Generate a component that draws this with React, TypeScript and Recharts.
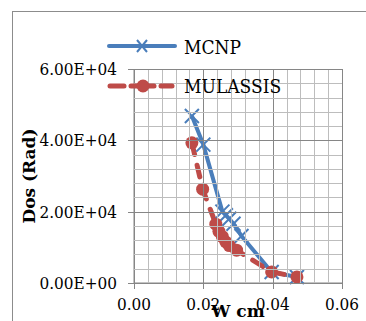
import React from 'react';
import { LineChart, Line, XAxis, YAxis, Label } from 'recharts';

const seriesNames = ['MCNP', 'MULASSIS'];
const seriesColors = ['#4A7EBB', '#BE4B48'];

const mcnpW = [0.0167, 0.02, 0.0255, 0.0265, 0.0275, 0.0287, 0.031, 0.0397, 0.047];
const mcnpDose = [46800, 38800, 20000, 19000, 18000, 16600, 13200, 3100, 1700];

const mulW = [0.0167, 0.0198, 0.0236, 0.0245, 0.0255, 0.0265, 0.0275, 0.0296, 0.0397, 0.047];
const mulDose = [39300, 26300, 16500, 14500, 13000, 11500, 10500, 9200, 3100, 1700];

const xMajorTicks = [0, 0.02, 0.04, 0.06];
const xAllTicks = [0, 0.004, 0.008, 0.012, 0.016, 0.02, 0.024, 0.028, 0.032, 0.036, 0.04, 0.044, 0.048, 0.052, 0.056, 0.06];
const yMajorTicks = [0, 20000, 40000, 60000];
const yAllTicks = [0, 4000, 8000, 12000, 16000, 20000, 24000, 28000, 32000, 36000, 40000, 44000, 48000, 52000, 56000, 60000];

const xTitle = 'W cm';
const yTitle = 'Dos (Rad)';

const mcnpData = mcnpW.map((x, i) => ({ x, y: mcnpDose[i] }));
const mulData = mulW.map((x, i) => ({ x, y: mulDose[i] }));

const W = 366;
const H = 321;
const MARGIN_TOP = 69;
const MARGIN_RIGHT = 24;
const Y_AXIS_W = 134;
const X_AXIS_H = 38;
const PLOT_LEFT = Y_AXIS_W;
const PLOT_RIGHT = W - MARGIN_RIGHT;
const PLOT_TOP = MARGIN_TOP;
const PLOT_BOTTOM = H - X_AXIS_H;
const MAJOR = '#868686';
const MINOR = '#bdbdbd';
const FONT = 'DejaVu Serif Condensed, DejaVu Serif';
const TITLE_FONT = 'DejaVu Serif';

const fmtY = (v: number) => {
  const [m, e] = v.toExponential(2).split('e');
  const sign = e[0] === '-' ? '-' : '+';
  const digits = e.replace(/[+-]/, '').padStart(2, '0');
  return `${m}E${sign}${digits}`;
};
const fmtX = (v: number) => v.toFixed(2);
const isMajor = (v: number, majors: number[]) => majors.some((m) => Math.abs(m - v) < 1e-9);
const snap = (v: number) => Math.round(v) + 0.5;

const XTick = (props: any) => {
  const { payload } = props;
  const major = isMajor(payload.value, xMajorTicks);
  const cx = snap(payload.coordinate);
  return (
    <g>
      <line x1={cx} x2={cx} y1={PLOT_TOP} y2={PLOT_BOTTOM} stroke={major ? MAJOR : MINOR} strokeWidth={1} />
      {major && (
        <>
          <line x1={cx} x2={cx} y1={PLOT_BOTTOM} y2={PLOT_BOTTOM + 6} stroke={MAJOR} />
          <text x={payload.coordinate} y={PLOT_BOTTOM + 15} dy="0.71em" textAnchor="middle" fill="#000" fontSize={17} fontFamily={FONT}>
            {fmtX(payload.value)}
          </text>
        </>
      )}
    </g>
  );
};

const YTick = (props: any) => {
  const { payload } = props;
  const major = isMajor(payload.value, yMajorTicks);
  const cy = snap(payload.coordinate);
  return (
    <g>
      <line x1={PLOT_LEFT} x2={PLOT_RIGHT} y1={cy} y2={cy} stroke={major ? MAJOR : MINOR} strokeWidth={1} />
      {major && (
        <>
          <line x1={PLOT_LEFT - 6} x2={PLOT_LEFT} y1={cy} y2={cy} stroke={MAJOR} />
          <text x={PLOT_LEFT - 17} y={payload.coordinate} dy="0.355em" textAnchor="end" fill="#000" fontSize={17} fontFamily={FONT}>
            {fmtY(payload.value)}
          </text>
        </>
      )}
    </g>
  );
};

const CrossDot = (props: any) => {
  const { cx, cy, stroke } = props;
  if (cx == null || cy == null) return null;
  const s = 7;
  return (
    <path
      d={`M${cx - s},${cy - s}L${cx + s},${cy + s}M${cx - s},${cy + s}L${cx + s},${cy - s}`}
      stroke={stroke}
      strokeWidth={2}
      fill="none"
    />
  );
};

const CircleDot = (props: any) => {
  const { cx, cy, fill } = props;
  if (cx == null || cy == null) return null;
  return <circle cx={cx} cy={cy} r={6.5} fill={fill} stroke="none" />;
};

const YTitle = (props: any) => {
  const vb = props.viewBox || { x: 0, y: 0, width: 0, height: 0 };
  const x = vb.x + 29;
  const y = vb.y + vb.height / 2;
  return (
    <text
      x={x}
      y={y}
      transform={`rotate(-90, ${x}, ${y})`}
      textAnchor="middle"
      dominantBaseline="central"
      fontFamily={TITLE_FONT}
      fontWeight="bold"
      fontSize={17}
      fill="#000"
    >
      {yTitle}
    </text>
  );
};

const LegendOverlay = () => {
  const items = [
    { name: seriesNames[0], color: seriesColors[0], y: 46, base: 54, type: 'cross' },
    { name: seriesNames[1], color: seriesColors[1], y: 86, base: 93, type: 'circle' },
  ];
  return (
    <svg width={W} height={H} style={{ position: 'absolute', left: 0, top: 0, pointerEvents: 'none' }}>
      {items.map((it) => (
        <g key={it.name}>
          {it.type === 'cross' ? (
            <>
              <line x1={109} y1={it.y} x2={175} y2={it.y} stroke={it.color} strokeWidth={4} strokeLinecap="round" />
              <path d={`M${142 - 5},${it.y - 6}L${142 + 5},${it.y + 6}M${142 - 5},${it.y + 6}L${142 + 5},${it.y - 6}`} stroke={it.color} strokeWidth={2} />
            </>
          ) : (
            <>
              <line x1={110} y1={it.y} x2={124} y2={it.y} stroke={it.color} strokeWidth={5} strokeLinecap="round" />
              <line x1={131} y1={it.y} x2={154} y2={it.y} stroke={it.color} strokeWidth={5} strokeLinecap="round" />
              <line x1={161} y1={it.y} x2={172} y2={it.y} stroke={it.color} strokeWidth={5} strokeLinecap="round" />
              <circle cx={143} cy={it.y} r={6.5} fill={it.color} />
            </>
          )}
          <text x={184} y={it.base} fontFamily={FONT} fontSize={19} fill="#000">
            {it.name}
          </text>
        </g>
      ))}
    </svg>
  );
};

export default function App() {
  return (
    <div style={{ position: 'absolute', left: 0, top: 0, width: W, height: H, overflow: 'hidden' }}>
      <div
        style={{
          position: 'absolute',
          left: 12,
          top: 11,
          width: 400,
          height: 400,
          border: '1px solid #8c8c8c',
          boxSizing: 'border-box',
        }}
      />
      <div style={{ position: 'absolute', left: 0, top: 0 }}>
        <LineChart width={W} height={H} margin={{ top: MARGIN_TOP, right: MARGIN_RIGHT, bottom: 0, left: 0 }}>
          <XAxis
            type="number"
            dataKey="x"
            domain={[0, 0.06]}
            ticks={xAllTicks}
            interval={0}
            height={X_AXIS_H}
            tickSize={6}
            tickMargin={8}
            tickLine={{ stroke: 'none' }}
            stroke={MAJOR}
            tick={<XTick />}
          >
            <Label value={xTitle} position="insideBottom" offset={4} fill="#000" fontWeight="bold" fontSize={17} fontFamily={TITLE_FONT} />
          </XAxis>
          <YAxis
            type="number"
            domain={[0, 60000]}
            ticks={yAllTicks}
            interval={0}
            width={Y_AXIS_W}
            tickSize={6}
            tickMargin={10}
            tickLine={{ stroke: 'none' }}
            stroke={MAJOR}
            tick={<YTick />}
          >
            <Label content={<YTitle />} position="center" />
          </YAxis>
          <Line
            data={mcnpData}
            dataKey="y"
            name={seriesNames[0]}
            type="linear"
            stroke={seriesColors[0]}
            strokeWidth={4}
            strokeLinejoin="round"
            dot={(p: any) => <CrossDot key={`c${p.index}`} {...p} stroke={seriesColors[0]} />}
            isAnimationActive={false}
          />
          <Line
            data={mulData}
            dataKey="y"
            name={seriesNames[1]}
            type="linear"
            stroke={seriesColors[1]}
            strokeWidth={5}
            strokeDasharray="12 11"
            strokeLinecap="round"
            dot={(p: any) => <CircleDot key={`r${p.index}`} {...p} fill={seriesColors[1]} />}
            isAnimationActive={false}
          />
        </LineChart>
      </div>
      <LegendOverlay />
    </div>
  );
}
